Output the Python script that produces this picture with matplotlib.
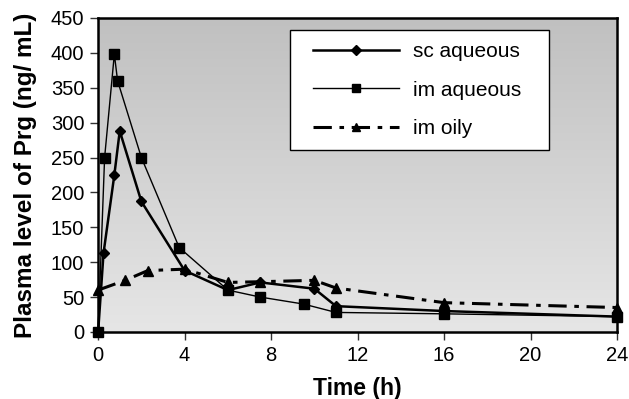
import numpy as np
import matplotlib
matplotlib.use("Agg")
import matplotlib.pyplot as plt
from matplotlib.patches import Rectangle
from matplotlib.colors import LinearSegmentedColormap

plt.rcParams["font.family"] = ["Liberation Sans", "DejaVu Sans"]

# hours after dosing
t_sc = [0, 0.25, 0.75, 1, 2, 4, 6, 7.5, 10, 11, 16, 24]
sc_aqueous = [0, 113, 225, 288, 187, 88, 60, 71, 62, 37, 30, 22]

t_im = [0, 0.3, 0.75, 0.9, 2, 3.75, 6, 7.5, 9.5, 11, 16, 24]
im_aqueous = [0, 250, 398, 360, 250, 121, 60, 50, 40, 28, 26, 22]

t_oily = [0, 1.25, 2.3, 4, 6, 7.5, 10, 11, 16, 24]
im_oily = [60, 74, 88, 90, 71, 72, 74, 63, 42, 35]

xticks = [0, 4, 8, 12, 16, 20, 24]
yticks = list(range(0, 451, 50))

fig = plt.figure(figsize=(6.29, 3.99), dpi=100)
ax = fig.add_axes([0.156, 0.168, 0.825, 0.787])

# grey gradient background, darker at the top
grad = np.linspace(0, 1, 256).reshape(-1, 1)
bg = LinearSegmentedColormap.from_list("bg", ["#c0c0c0", "#e6e6e6"])
ax.imshow(grad, cmap=bg, aspect="auto", origin="upper",
          extent=[0, 24, 0, 450], zorder=0)

ax.plot(t_sc, sc_aqueous, color="black", lw=1.8, marker="D", ms=5.5,
        label="sc aqueous", zorder=3, clip_on=False)
ax.plot(t_im, im_aqueous, color="black", lw=1.0, marker="s", ms=7.5,
        label="im aqueous", zorder=3, clip_on=False)
ax.plot(t_oily, im_oily, color="black", lw=2.2, marker="^", ms=7.5,
        dashes=(6, 2.5, 1.5, 2.5), label="im oily", zorder=3, clip_on=False)

ax.set_xlim(0, 24)
ax.set_ylim(0, 450)
ax.set_xticks(xticks)
ax.set_yticks(yticks)
ax.tick_params(direction="out", length=6, width=1, labelsize=14.5,
               colors="#333333", labelcolor="black", pad=4)
for s in ax.spines.values():
    s.set_linewidth(1.8)

ax.set_xlabel("Time (h)", fontsize=16.5, fontweight="bold", labelpad=9)
ax.set_ylabel("Plasma level of Prg (ng/ mL)", fontsize=17.5,
              fontweight="bold", labelpad=10)

# legend box drawn separately so the padding can match
ax.add_patch(Rectangle((0.369, 0.580), 0.500, 0.382, transform=ax.transAxes,
                       facecolor="white", edgecolor="black", lw=1.0,
                       zorder=4))
leg = ax.legend(loc="upper left", bbox_to_anchor=(0.415, 0.924),
                fontsize=15, frameon=False, handlelength=4.1,
                handletextpad=0.7, borderpad=0, labelspacing=0.95,
                borderaxespad=0)
leg.set_zorder(5)
sizes = [5, 6, 6]
for h, s in zip(leg.legend_handles, sizes):
    h.set_markersize(s)

fig.savefig("out.png", dpi=100)
